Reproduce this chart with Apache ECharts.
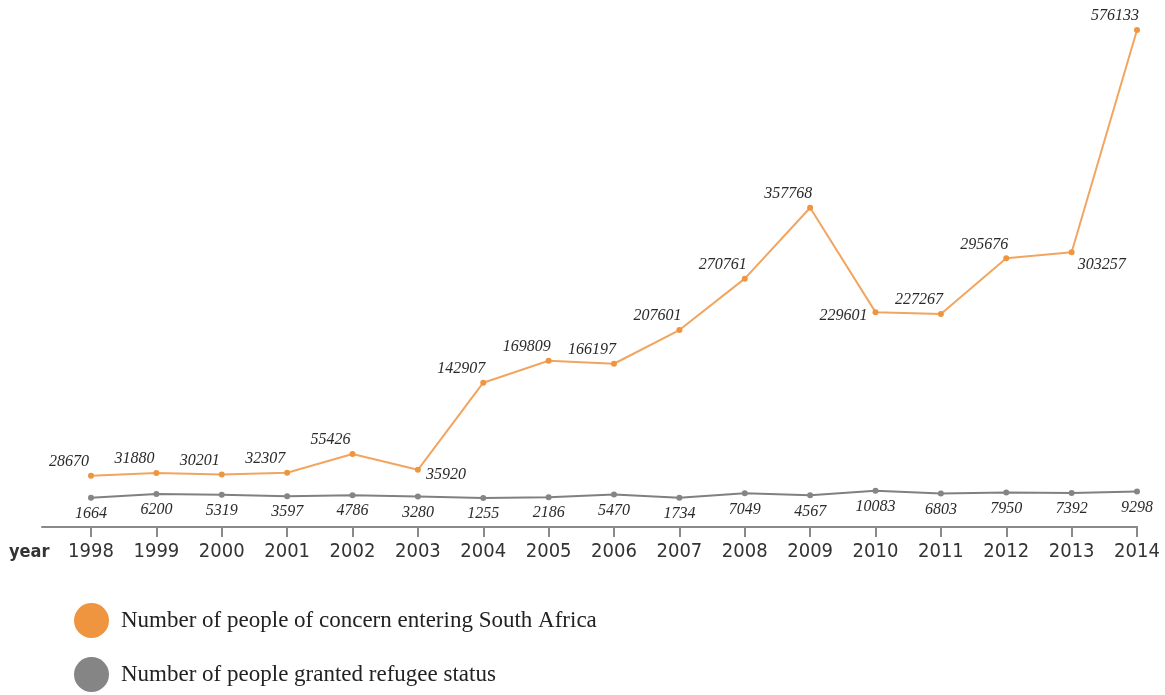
<!DOCTYPE html>
<html>
<head>
<meta charset="utf-8">
<script src="https://cdn.jsdelivr.net/npm/echarts@6/dist/echarts.min.js"></script>
<style>html,body{margin:0;padding:0;background:#fff;}#c{width:1165px;height:695px;}</style>
</head>
<body>
<div id="c"></div>
<script>
var years = ['1998','1999','2000','2001','2002','2003','2004','2005','2006','2007','2008','2009','2010','2011','2012','2013','2014'];
var concern = [28670,31880,30201,32307,55426,35920,142907,169809,166197,207601,270761,357768,229601,227267,295676,303257,576133];
var refugee = [1664,6200,5319,3597,4786,3280,1255,2186,5470,1734,7049,4567,10083,6803,7950,7392,9298];
var seriesNames = ['Number of people of concern entering South Africa','Number of people granted refugee status'];

// label placement overrides for the orange series (by index)
var orangeLabelOverride = {
  5: {position: 'right', offset: [0, 5]},
  12: {position: 'left', offset: [0, 4]},
  15: {position: 'right', offset: [-2, 13]}
};

var condensed = "'DejaVu Sans Condensed', 'Liberation Sans Narrow', 'Roboto Condensed', Roboto, sans-serif";
var labelFont = {fontFamily: 'Liberation Serif', fontStyle: 'italic', fontSize: 16, color: '#2a2a2a'};

var concernData = concern.map(function (v, i) {
  var o = orangeLabelOverride[i];
  var item = {value: v};
  if (o) item.label = {position: o.position, offset: o.offset};
  return item;
});

var chart = echarts.init(document.getElementById('c'));
chart.setOption({
  animation: false,
  grid: [
    {left: 91, right: 28, top: 30, height: 497},
    {left: 42, right: 28, top: 30, height: 497}
  ],
  xAxis: [
    {
      type: 'category', gridIndex: 0, data: years, boundaryGap: false,
      axisLine: {show: true, onZero: false, lineStyle: {color: '#8a8a8a', width: 2}},
      axisTick: {show: true, alignWithLabel: true, length: 10, lineStyle: {color: '#8a8a8a', width: 2}},
      axisLabel: {color: '#333', fontFamily: condensed, fontSize: 20, margin: 15}
    },
    {
      type: 'value', gridIndex: 1, min: 0, max: 1,
      axisLine: {show: true, onZero: false, lineStyle: {color: '#8a8a8a', width: 2}},
      axisTick: {show: false}, axisLabel: {show: false}, splitLine: {show: false}
    }
  ],
  yAxis: [
    {type: 'value', gridIndex: 0, min: -34300, max: 576133, show: false, splitLine: {show: false}},
    {type: 'value', gridIndex: 1, min: 0, max: 1, show: false, splitLine: {show: false}}
  ],
  legend: {
    orient: 'vertical', left: 74, top: 603, padding: 0, icon: 'circle',
    itemWidth: 35, itemHeight: 35, itemGap: 19,
    textStyle: {fontFamily: 'Liberation Serif', fontSize: 23, color: '#222', padding: [0, 0, 0, 7]},
    data: seriesNames
  },
  graphic: [
    {type: 'text', left: 9, top: 543, style: {text: 'year', fontFamily: condensed, fontSize: 18, fontWeight: 'bold', fill: '#333'}}
  ],
  series: [
    {
      name: seriesNames[0], type: 'line', xAxisIndex: 0, yAxisIndex: 0,
      data: concernData,
      symbol: 'circle', symbolSize: 6,
      itemStyle: {color: '#F0953F'},
      lineStyle: {color: '#F2A560', width: 2},
      label: Object.assign({show: true, position: 'top', offset: [-22, 2]}, labelFont)
    },
    {
      name: seriesNames[1], type: 'line', xAxisIndex: 0, yAxisIndex: 0,
      data: refugee,
      symbol: 'circle', symbolSize: 6,
      itemStyle: {color: '#858585'},
      lineStyle: {color: '#808080', width: 2},
      label: Object.assign({show: true, position: 'bottom', offset: [0, 0]}, labelFont)
    }
  ]
});
</script>
</body>
</html>
